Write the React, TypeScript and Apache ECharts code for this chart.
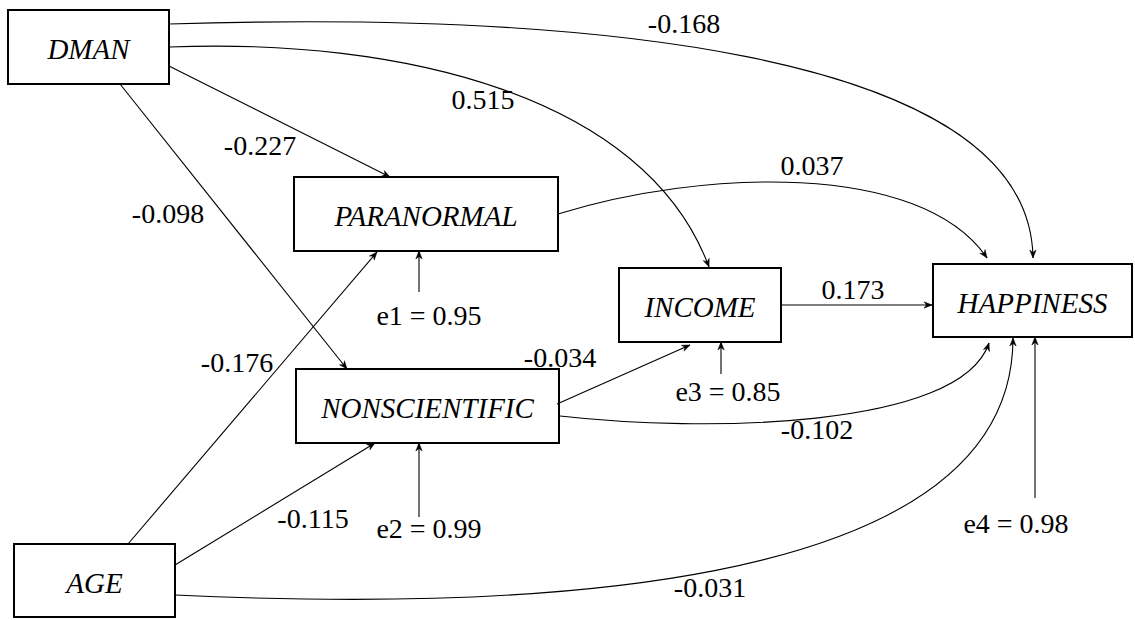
import React, { useEffect, useRef } from "react";
import * as echarts from "echarts";

// ---- data ----
const variables = ["DMAN", "PARANORMAL", "NONSCIENTIFIC", "INCOME", "HAPPINESS", "AGE"];
const pathFrom = ["DMAN", "DMAN", "DMAN", "DMAN", "AGE", "AGE", "AGE", "PARANORMAL", "INCOME", "NONSCIENTIFIC", "NONSCIENTIFIC"];
const pathTo = ["HAPPINESS", "INCOME", "PARANORMAL", "NONSCIENTIFIC", "PARANORMAL", "NONSCIENTIFIC", "HAPPINESS", "HAPPINESS", "HAPPINESS", "INCOME", "HAPPINESS"];
const pathCoefficients = [-0.168, 0.515, -0.227, -0.098, -0.176, -0.115, -0.031, 0.037, 0.173, -0.034, -0.102];
const errorNames = ["e1", "e2", "e3", "e4"];
const errorTargets = ["PARANORMAL", "NONSCIENTIFIC", "INCOME", "HAPPINESS"];
const errorValues = [0.95, 0.99, 0.85, 0.98];

// ---- layout (diagram coordinates on a 1135 x 620 plane) ----
type P = [number, number];
const boxLayout: Record<string, [number, number, number, number]> = {
  DMAN: [8, 10, 169, 84],
  PARANORMAL: [294, 177, 558, 251],
  NONSCIENTIFIC: [296, 369, 559, 443],
  INCOME: [619, 268, 781, 342],
  HAPPINESS: [933, 264, 1132, 337],
  AGE: [14, 544, 175, 617],
};
// start, control1, control2 (null = straight), end, label centre
const pathLayout: [P, P | null, P | null, P, P][] = [
  [[169, 24], [560, 12], [1030, 45], [1033, 258], [684, 23]],
  [[169, 47], [400, 38], [645, 95], [709, 267], [483, 99]],
  [[169, 66], null, null, [390, 177], [260, 145]],
  [[120, 84], null, null, [347, 369], [168, 213]],
  [[128, 544], null, null, [377, 252], [237, 362]],
  [[175, 565], null, null, [375, 443], [313, 518]],
  [[175, 595], [500, 610], [1013, 600], [1013, 338], [710, 587]],
  [[558, 214], [700, 170], [920, 160], [987, 258], [812, 165]],
  [[781, 305], null, null, [932, 305], [853, 289]],
  [[557, 404], null, null, [690, 345], [560, 357]],
  [[560, 416], [700, 432], [960, 430], [989, 343], [817, 429]],
];
// arrow x, arrow start y, label centre
const errorLayout: [number, number, P][] = [
  [419, 292, [429, 315]],
  [419, 517, [429, 528]],
  [721, 374, [728, 391]],
  [1035, 498, [1016, 523]],
];

const FONT = "Liberation Serif";
const FS = 28;
const FS_NAME = 29;

function arrowHead(tip: number[], from: number[]) {
  const dx = tip[0] - from[0];
  const dy = tip[1] - from[1];
  const len = Math.hypot(dx, dy) || 1;
  const ux = dx / len, uy = dy / len;
  const px = -uy, py = ux;
  const L = 8, Wd = 3.2, N = 5.5;
  return [
    [tip[0], tip[1]],
    [tip[0] - ux * L + px * Wd, tip[1] - uy * L + py * Wd],
    [tip[0] - ux * N, tip[1] - uy * N],
    [tip[0] - ux * L - px * Wd, tip[1] - uy * L - py * Wd],
  ];
}

function label(pos: number[], text: string, italic = false) {
  return {
    type: "text",
    x: pos[0],
    y: pos[1],
    style: {
      text,
      fill: "#000",
      fontSize: italic ? FS_NAME : FS,
      fontFamily: FONT,
      fontStyle: italic ? "italic" : "normal",
      align: "center",
      verticalAlign: "middle",
    },
  };
}

export default function App() {
  const ref = useRef<HTMLDivElement>(null);
  useEffect(() => {
    if (!ref.current) return;
    const chart = echarts.init(ref.current, undefined, { renderer: "svg" });

    const option: any = {
      animation: false,
      backgroundColor: "#fff",
      grid: { left: 0, right: 0, top: 0, bottom: 0 },
      xAxis: { type: "value", min: 0, max: 1135, show: false },
      yAxis: { type: "value", min: 0, max: 620, inverse: true, show: false },
      series: [
        {
          type: "custom",
          name: "variables",
          clip: false,
          data: variables.map((v, i) => [i, 0, v]),
          renderItem: (params: any, api: any) => {
            const name = variables[params.dataIndex];
            const b = boxLayout[name];
            const p0 = api.coord([b[0], b[1]]);
            const p1 = api.coord([b[2], b[3]]);
            return {
              type: "group",
              children: [
                {
                  type: "rect",
                  shape: { x: p0[0], y: p0[1], width: p1[0] - p0[0], height: p1[1] - p0[1] },
                  style: { fill: "#fff", stroke: "#000", lineWidth: 2 },
                },
                label([(p0[0] + p1[0]) / 2, (p0[1] + p1[1]) / 2 + 2], name, true),
              ],
            };
          },
        },
        {
          type: "custom",
          name: "paths",
          clip: false,
          data: pathCoefficients.map((v, i) => [i, v, pathFrom[i], pathTo[i]]),
          renderItem: (params: any, api: any) => {
            const i = params.dataIndex;
            const g = pathLayout[i];
            const s = api.coord(g[0]);
            const e = api.coord(g[3]);
            const children: any[] = [];
            let before: number[];
            if (g[1] && g[2]) {
              const c1 = api.coord(g[1]);
              const c2 = api.coord(g[2]);
              children.push({
                type: "bezierCurve",
                shape: { x1: s[0], y1: s[1], cpx1: c1[0], cpy1: c1[1], cpx2: c2[0], cpy2: c2[1], x2: e[0], y2: e[1] },
                style: { fill: "none", stroke: "#000", lineWidth: 1.1 },
              });
              before = c2;
            } else {
              children.push({
                type: "line",
                shape: { x1: s[0], y1: s[1], x2: e[0], y2: e[1] },
                style: { stroke: "#000", lineWidth: 1.1 },
              });
              before = s;
            }
            children.push({
              type: "polygon",
              shape: { points: arrowHead(e, before) },
              style: { fill: "#000", stroke: "#000", lineWidth: 0.5 },
            });
            children.push(label(api.coord(g[4]), pathCoefficients[i].toFixed(3)));
            return { type: "group", children };
          },
        },
        {
          type: "custom",
          name: "errors",
          clip: false,
          data: errorValues.map((v, i) => [i, v, errorNames[i], errorTargets[i]]),
          renderItem: (params: any, api: any) => {
            const i = params.dataIndex;
            const lay = errorLayout[i];
            const b = boxLayout[errorTargets[i]];
            const s = api.coord([lay[0], lay[1]]);
            const e = api.coord([lay[0], b[3]]);
            return {
              type: "group",
              children: [
                { type: "line", shape: { x1: s[0], y1: s[1], x2: e[0], y2: e[1] }, style: { stroke: "#000", lineWidth: 1.1 } },
                { type: "polygon", shape: { points: arrowHead(e, s) }, style: { fill: "#000", stroke: "#000", lineWidth: 0.5 } },
                label(api.coord(lay[2]), `${errorNames[i]} = ${errorValues[i].toFixed(2)}`),
              ],
            };
          },
        },
      ],
    };
    chart.setOption(option);
    return () => chart.dispose();
  }, []);

  return (
    <div
      ref={ref}
      style={{ position: "fixed", left: 0, top: 0, width: 1135, height: 620, background: "#fff" }}
    />
  );
}
